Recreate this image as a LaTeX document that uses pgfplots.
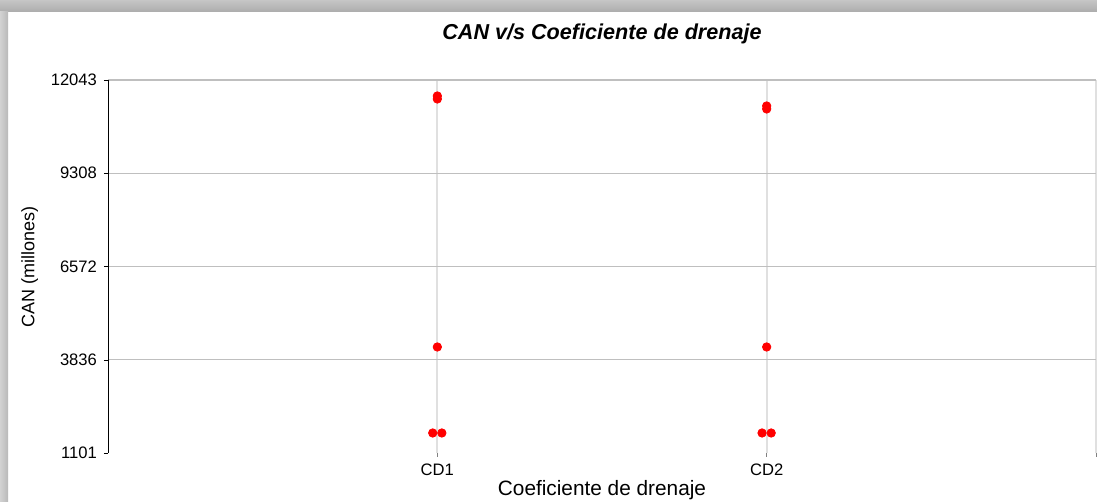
\documentclass[border=0pt]{standalone}
\usepackage{pgfplots}
\pgfplotsset{compat=1.18}
\usepackage{fontspec}
\setmainfont{Liberation Sans}
\begin{document}
\begin{tikzpicture}
\useasboundingbox (0,0) rectangle (548.5pt,251pt);
% window shadow frame
\shade[top color=gray!45, bottom color=gray!65] (0,245pt) rectangle (548.5pt,251pt);
\shade[left color=gray!35, right color=gray!55] (0,0) rectangle (4pt,245pt);
\begin{axis}[
  at={(54pt,24.5pt)}, anchor=south west,
  scale only axis, width=494pt, height=186.5pt,
  xmin=0, xmax=3, ymin=1101, ymax=12043,
  axis y line=left, axis x line=bottom,
  x axis line style={draw=none,-}, y axis line style={black,-},
  xtick={1,2,3}, xticklabels={CD1,CD2,{}},
  ytick={3836,6572,9308,12043},
  yticklabels={3836,6572,9308,12043},
  extra y ticks={1101}, extra y tick labels={1101},
  extra y tick style={grid=none},
  ymajorgrids, xmajorgrids,
  y grid style={color=black!25, line width=0.6pt},
  x grid style={color=black!12, line width=1pt},
  tick align=outside,
  major tick length=2pt,
  x tick style={color=black!50},
  y tick style={color=black},
  tick label style={font=\fontsize{8.3pt}{9pt}\selectfont},
  /pgf/number format/assume math mode=true,
  scaled y ticks=false,
  yticklabel style={/pgf/number format/fixed, /pgf/number format/1000 sep={}},
  xlabel={Coeficiente de drenaje},
  ylabel={CAN (millones)},
  xlabel style={font=\fontsize{10.4pt}{11pt}\selectfont, yshift=4.5pt},
  ylabel style={font=\fontsize{9pt}{10pt}\selectfont, yshift=-4.5pt},
  title={\textbf{\textit{CAN v/s Coeficiente de drenaje}}},
  title style={font=\fontsize{10.8pt}{12pt}\selectfont, yshift=8.5pt},
  clip=false,
]
\addplot[only marks, mark=*, mark size=2.1pt, color=red, mark options={fill=red, draw=red}] coordinates {
  (1,11574) (1,11486) (1,4211) (0.986,1688) (1.0137,1688)
  (2,11281) (2,11193) (2,4211) (1.986,1688) (2.0137,1688)
};
\end{axis}
\end{tikzpicture}
\end{document}
